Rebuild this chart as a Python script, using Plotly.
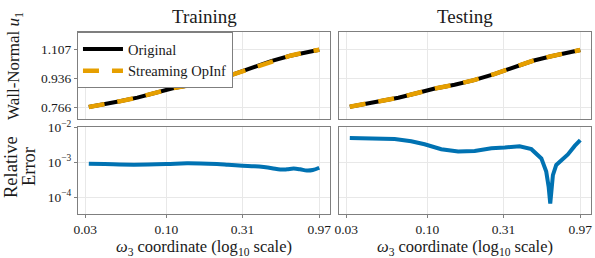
import plotly.graph_objects as go

# ---------------- data ----------------
omega_u = [0.0316, 0.04, 0.05, 0.065, 0.085, 0.11, 0.15, 0.2, 0.27, 0.36, 0.48, 0.63, 0.8, 0.97]
u1_train_orig = [0.766, 0.782, 0.800, 0.822, 0.852, 0.878, 0.900, 0.925, 0.960, 1.000, 1.040, 1.071, 1.093, 1.107]
u1_train_opinf = [0.766, 0.782, 0.800, 0.822, 0.852, 0.878, 0.900, 0.925, 0.960, 1.000, 1.040, 1.071, 1.093, 1.107]
u1_test_orig = [0.768, 0.784, 0.801, 0.821, 0.848, 0.875, 0.899, 0.926, 0.962, 1.002, 1.041, 1.068, 1.090, 1.105]
u1_test_opinf = [0.768, 0.784, 0.801, 0.821, 0.848, 0.875, 0.899, 0.926, 0.962, 1.002, 1.041, 1.068, 1.090, 1.105]

omega_err_train = [0.0316, 0.04, 0.0615, 0.1, 0.136, 0.212, 0.25, 0.31, 0.37, 0.425, 0.48, 0.543, 0.6, 0.663, 0.73, 0.807, 0.88, 0.97]
err_train = [0.91e-3, 0.89e-3, 0.855e-3, 0.89e-3, 0.94e-3, 0.89e-3, 0.85e-3, 0.80e-3, 0.77e-3, 0.73e-3, 0.68e-3, 0.62e-3, 0.63e-3, 0.66e-3, 0.63e-3, 0.58e-3, 0.60e-3, 0.70e-3]

omega_err_test = [0.0316, 0.0434, 0.0615, 0.0787, 0.096, 0.123, 0.158, 0.202, 0.259, 0.316, 0.394, 0.469, 0.544, 0.585, 0.606, 0.621, 0.634, 0.646, 0.679, 0.75, 0.807, 0.893, 0.97]
err_test = [5.04e-3, 4.85e-3, 4.72e-3, 4.07e-3, 3.33e-3, 2.4e-3, 2.06e-3, 2.14e-3, 2.56e-3, 2.68e-3, 2.92e-3, 2.4e-3, 1.3e-3, 5.4e-4, 2.0e-4, 6.5e-5, 1.8e-4, 4.3e-4, 8.4e-4, 1.3e-3, 1.69e-3, 2.98e-3, 4.36e-3]

x_tickvals = [0.03, 0.10, 0.31, 0.97]
x_ticktext = ["0.03", "0.10", "0.31", "0.97"]
u_tickvals = [0.766, 0.936, 1.107]
u_ticktext = ["0.766", "0.936", "1.107"]
e_tickvals = [1e-4, 1e-3, 1e-2]
e_ticktext = ["10<sup>−4</sup>", "10<sup>−3</sup>", "10<sup>−2</sup>"]

FONT = "Liberation Serif"
BLACK = "#000000"
ORANGE = "#E69F00"
BLUE = "#0072B2"
BORDER = "#7f7f7f"
GRID = "#e8e8e8"
TXT = "#1a1a1a"

fig = go.Figure()

fig.add_trace(go.Scatter(x=omega_u, y=u1_train_orig, mode="lines", name="Original",
                         line=dict(color=BLACK, width=4), xaxis="x", yaxis="y", showlegend=True))
fig.add_trace(go.Scatter(x=omega_u, y=u1_train_opinf, mode="lines", name="Streaming OpInf",
                         line=dict(color=ORANGE, width=4.5, dash="16px,13px"), xaxis="x", yaxis="y", showlegend=True))
fig.add_trace(go.Scatter(x=omega_u, y=u1_test_orig, mode="lines", name="Original",
                         line=dict(color=BLACK, width=4), xaxis="x2", yaxis="y2", showlegend=False))
fig.add_trace(go.Scatter(x=omega_u, y=u1_test_opinf, mode="lines", name="Streaming OpInf",
                         line=dict(color=ORANGE, width=4.5, dash="16px,13px"), xaxis="x2", yaxis="y2", showlegend=False))
fig.add_trace(go.Scatter(x=omega_err_train, y=err_train, mode="lines", line_shape="spline",
                         line=dict(color=BLUE, width=4), xaxis="x3", yaxis="y3", showlegend=False))
fig.add_trace(go.Scatter(x=omega_err_test, y=err_test, mode="lines",
                         line=dict(color=BLUE, width=4), xaxis="x4", yaxis="y4", showlegend=False))

W, H = 595, 258
L, R, T, B = 78, 4, 32, 44
pw = W - L - R
ph = H - T - B
dx_left = [0, (330 - L) / pw]
dx_right = [(339 - L) / pw, 1]
dy_top = [(H - B - 119) / ph, 1]
dy_bot = [0, (H - B - 127) / ph]

xr = [-1.570, 0.056]

def xax(domain, anchor, labels):
    return dict(domain=domain, anchor=anchor, type="log", range=xr,
                tickvals=x_tickvals, ticktext=x_ticktext, showticklabels=labels,
                ticks="outside" if labels else "", ticklen=3, tickcolor=BORDER,
                showgrid=True, gridcolor=GRID, gridwidth=1,
                showline=True, linecolor=BORDER, linewidth=1, mirror=True,
                zeroline=False, tickfont=dict(family=FONT, size=13.5, color=TXT),
                title=dict(text="<i>ω</i><sub>3</sub> coordinate (log<sub>10</sub> scale)" if labels else "",
                           font=dict(family=FONT, size=16.5, color=TXT), standoff=1))

def uax(domain, anchor, labels):
    return dict(domain=domain, anchor=anchor, range=[0.695, 1.212],
                tickvals=u_tickvals, ticktext=u_ticktext, showticklabels=labels,
                ticks="outside" if labels else "", ticklen=3, tickcolor=BORDER,
                showgrid=True, gridcolor=GRID, gridwidth=1,
                showline=True, linecolor=BORDER, linewidth=1, mirror=True,
                zeroline=False, tickfont=dict(family=FONT, size=13.5, color=TXT))

def eax(domain, anchor, labels):
    return dict(domain=domain, anchor=anchor, type="log", range=[-4.49, -1.98],
                tickvals=e_tickvals, ticktext=e_ticktext, showticklabels=labels,
                ticks="outside" if labels else "", ticklen=3, tickcolor=BORDER,
                showgrid=True, gridcolor=GRID, gridwidth=1,
                showline=True, linecolor=BORDER, linewidth=1, mirror=True,
                zeroline=False, tickfont=dict(family=FONT, size=13.5, color=TXT))

fig.update_layout(
    width=W, height=H,
    margin=dict(l=L, r=R, t=T, b=B, pad=0),
    paper_bgcolor="white", plot_bgcolor="white",
    font=dict(family=FONT, color=TXT),
    xaxis=xax(dx_left, "y", False),
    yaxis=uax(dy_top, "x", True),
    xaxis2=xax(dx_right, "y2", False),
    yaxis2=uax(dy_top, "x2", False),
    xaxis3=xax(dx_left, "y3", True),
    yaxis3=eax(dy_bot, "x3", True),
    xaxis4=xax(dx_right, "y4", True),
    yaxis4=eax(dy_bot, "x4", False),
    legend=dict(x=-0.002, y=1, xanchor="left", yanchor="top",
                bgcolor="white", bordercolor=BORDER, borderwidth=1,
                font=dict(family=FONT, size=14.5, color=TXT),
                itemwidth=40, tracegroupgap=0),
    annotations=[
        dict(text="Training", xref="paper", yref="paper",
             x=(dx_left[0] + dx_left[1]) / 2, y=1 + 16 / ph, xanchor="center", yanchor="middle",
             showarrow=False, font=dict(family=FONT, size=19, color=TXT)),
        dict(text="Testing", xref="paper", yref="paper",
             x=(dx_right[0] + dx_right[1]) / 2, y=1 + 16 / ph, xanchor="center", yanchor="middle",
             showarrow=False, font=dict(family=FONT, size=19, color=TXT)),
        dict(text="Wall-Normal <i>u</i><sub>1</sub>", xref="paper", yref="paper",
             x=-(L - 15) / pw, y=(H - B - 66) / ph, xanchor="center", yanchor="middle",
             textangle=-90, showarrow=False, font=dict(family=FONT, size=17, color=TXT)),
        dict(text="Relative", xref="paper", yref="paper",
             x=-(L - 11) / pw, y=(H - B - 167) / ph, xanchor="center", yanchor="middle",
             textangle=-90, showarrow=False, font=dict(family=FONT, size=18.5, color=TXT)),
        dict(text="Error", xref="paper", yref="paper",
             x=-(L - 29) / pw, y=(H - B - 167) / ph, xanchor="center", yanchor="middle",
             textangle=-90, showarrow=False, font=dict(family=FONT, size=18.5, color=TXT)),
    ],
)

fig.write_html("out.html", config={"displayModeBar": False},
               post_script="document.body.style.margin='0';document.body.style.padding='0';")
